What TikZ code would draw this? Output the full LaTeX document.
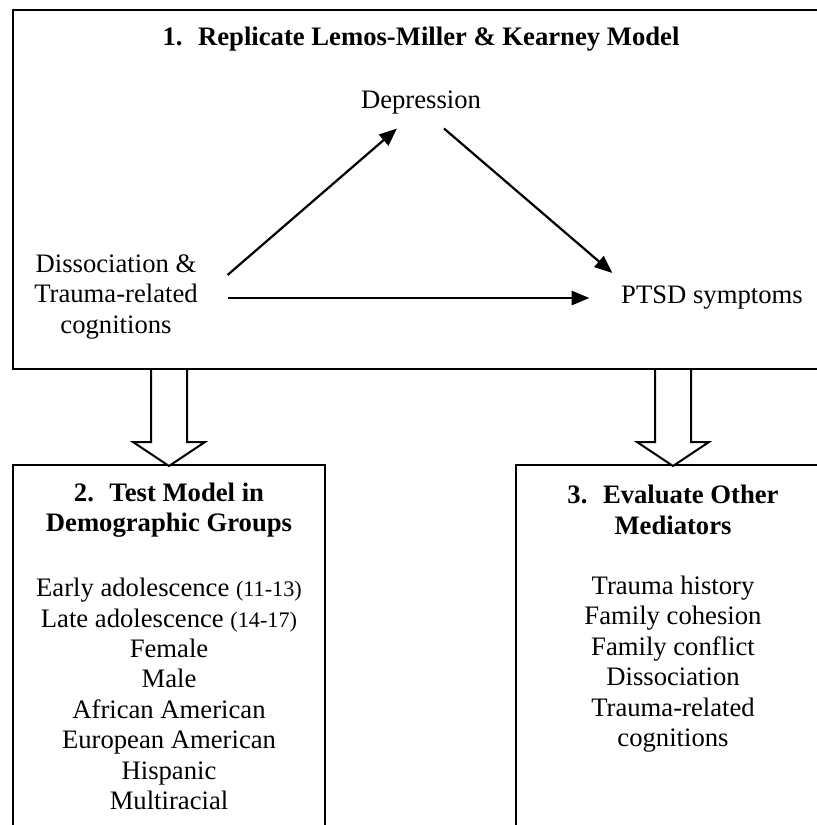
\documentclass[tikz,border=0pt]{standalone}
\usepackage{fontspec}
\setmainfont{Liberation Serif}
\usetikzlibrary{arrows.meta}
\usetikzlibrary{calc}
\usetikzlibrary{fit}
\tikzset{frame/.style = {draw, line width = 0.9pt, inner sep = 0}}
\tikzset{txt/.style = {align = center, font = \fontsize{12}{13.7}\selectfont}}
\tikzset{hd/.style = {align = center, font = \fontsize{12}{13.7}\selectfont\bfseries}}
\tikzset{link/.style = {line width = 1pt, -{Triangle[length = 8pt, width = 6.4pt]}}}
\tikzset{downarrow/.pic = {\draw [line width = 0.9pt, fill = white] (-18, 0) -- (-18, 72) -- (-36, 72) -- (0, 96) -- (36, 72) -- (18, 72) -- (18, 0);}}
\newcommand{\agerange}[1]{{\fontsize{10}{12}\selectfont #1}}

\begin{document}
\begin{tikzpicture}[x = 0.45pt, y = -0.45pt]
    \useasboundingbox (0, 0) rectangle (817, 825);
    \clip (0, 0) rectangle (817, 825);
    % frames
    \coordinate (mtl) at (13, 10);
    \coordinate (mbr) at (830, 369);
    \coordinate (dtl) at (13, 465);
    \coordinate (dbr) at (325, 900);
    \coordinate (otl) at (516, 465);
    \coordinate (obr) at (830, 900);
    \node [frame, fit = (mtl) (mbr)] (model) {};
    \node [frame, fit = (dtl) (dbr)] (demo) {};
    \node [frame, fit = (otl) (obr)] (other) {};
    % step 1
    \node [hd] (title1) at (421, 39) {1.~ Replicate Lemos-Miller \& Kearney Model};
    \node [txt] (dep) at (421, 103) {Depression};
    \node [txt] (dis) at (116, 297) {Dissociation \&\\Trauma-related\\cognitions};
    \node [txt] (ptsd) at (712, 298) {PTSD symptoms};
    \draw [link] ($(dis.east) + (22, -22)$) -- ($(dep.south) + (-24, 6)$);
    \draw [link] ($(dep.south) + (23, 6)$) -- ($(ptsd.west) + (-1, -25)$);
    \draw [link] ($(dis.east) + (22, 1)$) -- ($(ptsd.west) + (-24, 0)$);
    % steps 2 and 3
    \pic at (model.south -| demo.north) {downarrow};
    \pic at (model.south -| other.north) {downarrow};
    \node [hd] (title2) at (169, 510) {2.~ Test Model in\\Demographic Groups};
    \node [txt] (groups) at (169, 694) {Early adolescence \agerange{(11-13)}\\Late adolescence \agerange{(14-17)}\\Female\\Male\\African American\\European American\\Hispanic\\Multiracial};
    \node [hd] (title3) at (673, 510) {3.~ Evaluate Other\\Mediators};
    \node [txt] (mediators) at (673, 664) {Trauma history\\Family cohesion\\Family conflict\\Dissociation\\Trauma-related\\cognitions};
\end{tikzpicture}
\end{document}
